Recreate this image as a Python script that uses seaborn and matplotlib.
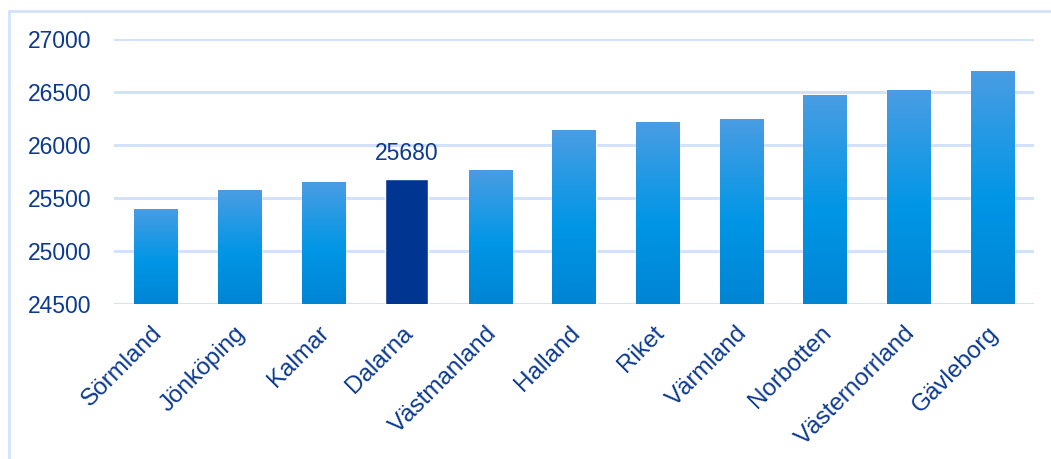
import numpy as np
import pandas as pd
import matplotlib
matplotlib.use("Agg")
import matplotlib.pyplot as plt
from matplotlib.colors import LinearSegmentedColormap
from matplotlib.lines import Line2D
from matplotlib.transforms import ScaledTranslation
import seaborn as sns

# Monthly values per region, sorted ascending
regions = ["Sörmland", "Jönköping", "Kalmar", "Dalarna", "Västmanland", "Halland",
           "Riket", "Värmland", "Norbotten", "Västernorrland", "Gävleborg"]
values = [25400, 25575, 25650, 25680, 25765, 26140, 26215, 26245, 26470, 26520, 26705]
highlight = "Dalarna"
yticks = [24500, 25000, 25500, 26000, 26500, 27000]

TEXT = "#0B3A8E"
GRID = "#D3E2FA"
DARK = "#003591"

sns.set_theme(style="white")
plt.rcParams["font.family"] = ["Liberation Sans", "DejaVu Sans"]

df = pd.DataFrame({"region": regions, "value": values})

fig = plt.figure(figsize=(10.51, 4.59), dpi=100)
W, H = 1051, 459
ax = fig.add_axes([114 / W, 1 - 304 / H, (1034 - 114) / W, (304 - 39.3) / H])

palette = {r: (DARK if r == highlight else "#0095E5") for r in regions}
sns.barplot(data=df, x="region", y="value", hue="region", palette=palette,
            width=0.515, saturation=1, legend=False, ax=ax, zorder=3)

ymin, ymax = yticks[0], yticks[-1]
ax.set_ylim(ymin, ymax)
ax.set_xlim(-0.5, len(regions) - 0.5)

# Vertical gradient fill for the regular bars
grad = LinearSegmentedColormap.from_list(
    "bar", [(0.0, "#0084D4"), (0.45, "#0096E6"), (1.0, "#4A9DE3")])
gimg = np.linspace(0, 1, 256).reshape(-1, 1)
for patch, reg in zip(ax.patches, regions):
    if reg == highlight:
        continue
    x0 = patch.get_x()
    x1 = x0 + patch.get_width()
    top = patch.get_y() + patch.get_height()
    im = ax.imshow(gimg, cmap=grad, origin="lower", aspect="auto",
                   extent=[x0, x1, ymin, top], zorder=4, interpolation="bicubic")
    im.set_clip_path(patch)

# Value label for the highlighted bar
hi = regions.index(highlight)
ax.annotate(f"{values[hi]}", xy=(hi, values[hi]), xytext=(0, 10),
            textcoords="offset points", ha="center", va="bottom",
            fontsize=16.5, color=TEXT, zorder=6)

ax.set_yticks(yticks)
ax.set_yticklabels([str(t) for t in yticks])
ax.yaxis.grid(True, color=GRID, linewidth=2.2, zorder=0)
ax.set_axisbelow(True)
for s in ax.spines.values():
    s.set_visible(False)
ax.tick_params(axis="y", length=0, pad=16, labelsize=16.5, labelcolor=TEXT)
ax.tick_params(axis="x", length=0, pad=13, labelsize=17.5, labelcolor=TEXT)
ax.set_xlabel("")
ax.set_ylabel("")
shift = ScaledTranslation(-5 / 100, 0, fig.dpi_scale_trans)
for lab in ax.get_xticklabels():
    lab.set_rotation(45)
    lab.set_ha("right")
    lab.set_va("top")
    lab.set_rotation_mode("anchor")
    lab.set_transform(lab.get_transform() + shift)

# Outer frame of the chart area (left and top edges)
fig.add_artist(Line2D([8.5 / W, 8.5 / W], [0, 1 - 10.5 / H], color=GRID,
                      linewidth=2, transform=fig.transFigure))
fig.add_artist(Line2D([8.5 / W, 1], [1 - 10.5 / H, 1 - 10.5 / H], color=GRID,
                      linewidth=2, transform=fig.transFigure))

fig.savefig("out.png", dpi=100, facecolor="white")
